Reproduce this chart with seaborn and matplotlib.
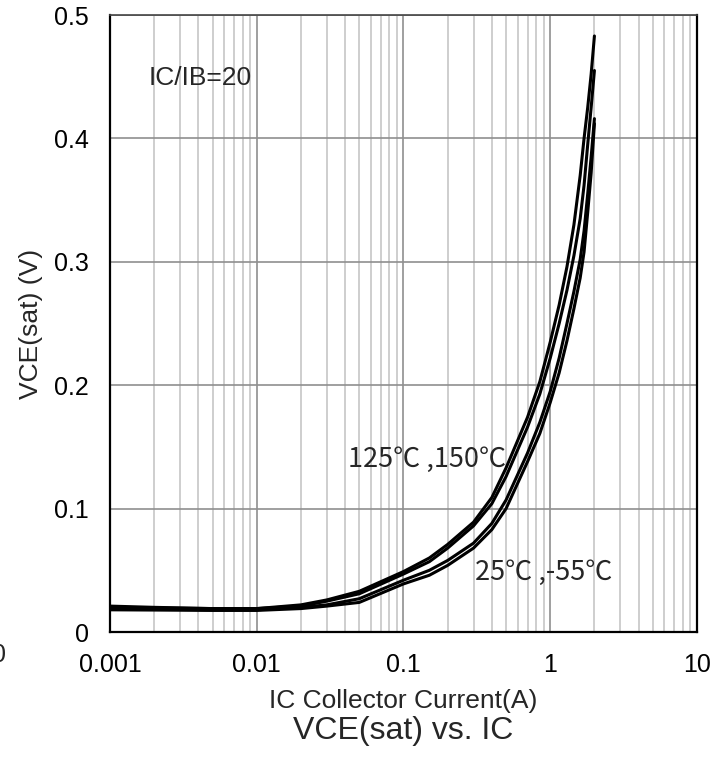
import numpy as np
import pandas as pd
import matplotlib
matplotlib.use("Agg")
import matplotlib.pyplot as plt
import matplotlib.transforms as mtransforms
import seaborn as sns

# Collector current (A) at which the curves were read
ic = [0.001, 0.002, 0.005, 0.01, 0.02, 0.03, 0.05, 0.1, 0.15, 0.2, 0.3, 0.4, 0.5,
      0.7, 0.85, 1.0, 1.15, 1.3, 1.45, 1.6, 1.7, 1.8, 1.9, 2.0]

# VCE(sat) (V) per temperature
vce_150 = [0.021, 0.020, 0.019, 0.019, 0.022, 0.026, 0.033, 0.049, 0.060, 0.071, 0.089, 0.109, 0.133,
           0.174, 0.203, 0.235, 0.265, 0.296, 0.330, 0.370, 0.400, 0.425, 0.452, 0.483]
vce_125 = [0.020, 0.0195, 0.019, 0.019, 0.021, 0.025, 0.031, 0.047, 0.057, 0.068, 0.086, 0.104, 0.126,
           0.166, 0.193, 0.222, 0.250, 0.277, 0.305, 0.335, 0.362, 0.395, 0.425, 0.455]
vce_25 = [0.019, 0.0185, 0.018, 0.018, 0.020, 0.022, 0.027, 0.042, 0.050, 0.058, 0.072, 0.088, 0.107,
          0.145, 0.170, 0.195, 0.222, 0.250, 0.276, 0.302, 0.325, 0.355, 0.385, 0.416]
vce_m55 = [0.018, 0.0178, 0.0175, 0.0175, 0.019, 0.021, 0.024, 0.039, 0.046, 0.054, 0.068, 0.083, 0.100,
           0.138, 0.161, 0.186, 0.210, 0.236, 0.262, 0.287, 0.308, 0.340, 0.372, 0.412]

temps = ["150", "125", "25", "-55"]
x_ticks = [0.001, 0.01, 0.1, 1, 10]
x_labels = ["0.001", "0.01", "0.1", "1", "10"]
y_ticks = [0, 0.1, 0.2, 0.3, 0.4, 0.5]
y_labels = ["0", "0.1", "0.2", "0.3", "0.4", "0.5"]

rows = []
for t, v in zip(temps, [vce_150, vce_125, vce_25, vce_m55]):
    for a, b in zip(ic, v):
        rows.append({"IC": a, "VCE": b, "temp": t})
df = pd.DataFrame(rows)

sns.set_style("white")
plt.rcParams["font.family"] = ["Liberation Sans", "DejaVu Sans"]

fig = plt.figure(figsize=(7.28, 7.58), dpi=100)
ax = fig.add_axes([0.1511, 0.1662, 0.8063, 0.8140])

sns.lineplot(data=df, x="IC", y="VCE", hue="temp", palette=["black"] * 4,
             legend=False, lw=2.2, ax=ax, zorder=3)

ax.set_xscale("log")
ax.set_xlim(0.001, 10)
ax.set_ylim(0, 0.5)
ax.set_xticks(x_ticks)
ax.set_xticklabels(x_labels)
ax.set_yticks(y_ticks)
ax.set_yticklabels(y_labels)
ax.xaxis.set_minor_locator(matplotlib.ticker.LogLocator(base=10, subs=np.arange(2, 10)))
ax.xaxis.set_minor_formatter(matplotlib.ticker.NullFormatter())

ax.grid(which="major", axis="both", color="#8f8f8f", lw=1.2)
ax.grid(which="minor", axis="x", color="#c6c6c6", lw=1.2)
ax.tick_params(which="both", length=0, labelsize=18, pad=15, colors="black")

for s in ax.spines.values():
    s.set_visible(True)
    s.set_color("black")
    s.set_linewidth(1.6)
ax.spines["top"].set_color("#444444")
ax.spines["top"].set_linewidth(1.2)

ax.set_xlabel("IC Collector Current(A)", fontsize=19, labelpad=9)
ax.set_ylabel("VCE(sat) (V)", fontsize=19, labelpad=8)

# cut-off tick label at the far left edge
trans = mtransforms.blended_transform_factory(ax.transData, ax.transAxes)
ax.text(1.95e-4, -0.0375, "0", transform=trans, ha="right", va="center",
        fontsize=18, clip_on=False)

ax.text(0.00182, 0.449, "IC/IB=20", fontsize=19, va="center", ha="left")
ax.text(0.0419, 0.140, "125\u2103 ,150\u2103", fontsize=19.5, va="center", ha="left",
        family=["Noto Sans CJK JP", "DejaVu Sans"])
ax.text(0.307, 0.0486, "25\u2103 ,-55\u2103", fontsize=19.5, va="center", ha="left",
        family=["Noto Sans CJK JP", "DejaVu Sans"])

fig.text(0.5545, 1 - 731 / 758, "VCE(sat) vs. IC", fontsize=23, ha="center", va="center")

fig.savefig("out.png", dpi=100)
